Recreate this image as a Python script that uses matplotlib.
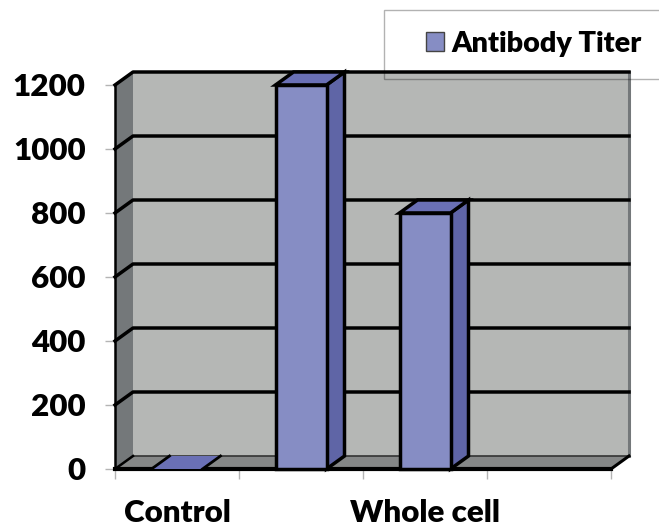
import matplotlib
matplotlib.use("Agg")
import matplotlib.pyplot as plt
from matplotlib.patches import Polygon, Patch, Rectangle

categories = ["Control", "", "Whole cell", ""]
titer = [0, 1200, 800]
series_name = "Antibody Titer"
y_ticks = [0, 200, 400, 600, 800, 1000, 1200]

W, H = 659, 527
L, R, T, B = 115, 611, 85, 469
dx = 18 / 124
dy = 13 / 384 * 1200
bw = 51 / 124
lw = 2.5
FILL, SIDE, TOP = "#868dc4", "#5f65a6", "#6a70b5"
WEIGHT = "heavy"
plt.rcParams["font.family"] = ["Lato", "DejaVu Sans"]

fig = plt.figure(figsize=(W / 100, H / 100), dpi=100)
ax = fig.add_axes([L / W, (H - B) / H, (R - L) / W, (B - T) / H])
ax.set_xlim(0, len(categories))
ax.set_ylim(0, max(y_ticks))
for s in ax.spines.values():
    s.set_visible(False)
ax.patch.set_visible(False)
xm, ym = len(categories), max(y_ticks)

def poly(pts, fc, ec="none", z=1, w=0):
    ax.add_patch(Polygon(pts, closed=True, fc=fc, ec=ec, lw=w, zorder=z, clip_on=False, joinstyle="miter"))

def line(xs, ys, c="black", w=lw, z=2):
    ax.plot(xs, ys, color=c, lw=w, zorder=z, clip_on=False, solid_capstyle="projecting")

# legend frame (drawn over the plot, semi-transparent so it darkens on the wall)
fig.add_artist(Rectangle((384 / W, (H - 79) / H), (W + 5 - 384) / W, 69 / H, transform=fig.transFigure,
                         fc="none", ec=(0, 0, 0, 0.3), lw=1, zorder=10))

# walls and floor
poly([(dx, dy), (xm + dx, dy), (xm + dx, ym + dy), (dx, ym + dy)], "#b5b7b5")
poly([(0, 0), (dx, dy), (dx, ym + dy), (0, ym)], "#74787a")
poly([(0, 0), (xm, 0), (xm + dx, dy), (dx, dy)], "#858787")
line([xm + dx, xm + dx], [dy, ym + dy], c="#74787a", w=2.2)
line([dx, xm + dx], [dy, dy], c="#333333", w=1.2)

# gridlines on the walls
for v in y_ticks[1:]:
    line([0, dx, xm + dx], [v, v + dy, v + dy])
line([0, dx], [0, dy], w=1.8)
line([0, 0], [0, ym], w=1.8)
line([0, xm], [0, 0], w=3, z=3)
line([xm, xm + dx], [0, dy], w=2.2, z=3)

# bars
for i, v in enumerate(titer):
    x0 = i + 0.5 - bw / 2
    x1 = x0 + bw
    edge = "black" if v > 0 else "none"
    poly([(x1, 0), (x1 + dx, dy), (x1 + dx, v + dy), (x1, v)], SIDE, edge, 4, lw)
    poly([(x0, v), (x1, v), (x1 + dx, v + dy), (x0 + dx, v + dy)], TOP, edge, 4, lw)
    poly([(x0, 0), (x1, 0), (x1, v), (x0, v)], FILL, edge, 5, lw)
    if v == 0:
        line([x0, x0 + dx], [0, dy], w=2, z=5)
        line([x1, x1 + dx], [0, dy], w=2, z=5)

# axes furniture
ax.set_yticks(y_ticks)
ax.set_yticklabels([str(v) for v in y_ticks], fontsize=22.6, fontweight=WEIGHT, color="black")
ax.tick_params(axis="y", length=7.2, width=1, color="#b4b4b4", pad=14)
ax.set_xticks(range(len(categories) + 1))
ax.set_xticklabels([""] * (len(categories) + 1))
ax.tick_params(axis="x", length=7, width=1, color="#b4b4b4")
for i, c in enumerate(categories):
    if c:
        ax.annotate(c, xy=(i + 0.5, 0), xytext=(0, -44), textcoords="offset pixels", ha="center",
                    va="center", fontsize=22.6, fontweight=WEIGHT, annotation_clip=False)

leg = ax.legend(handles=[Patch(fc=FILL, ec="#444444", lw=1, label=series_name)], frameon=False,
                loc="center left", bbox_to_anchor=(426 / W, (H - 44) / H), bbox_transform=fig.transFigure,
                prop={"size": 20.8, "weight": WEIGHT}, handlelength=0.62, handleheight=0.64, handletextpad=0.27,
                borderpad=0, borderaxespad=0)
fig.savefig("out.png", dpi=100)
